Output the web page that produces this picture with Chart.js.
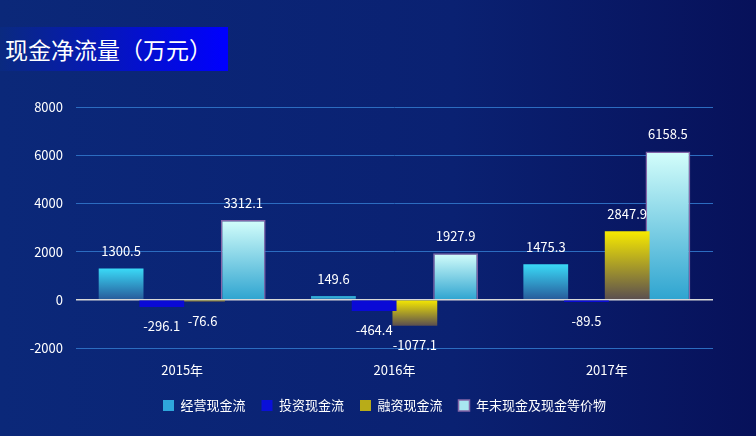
<!DOCTYPE html>
<html>
<head>
<meta charset="utf-8">
<script src="https://cdn.jsdelivr.net/npm/chart.js@4/dist/chart.umd.min.js"></script>
<style>
  html,body{margin:0;padding:0;}
  body{width:756px;height:436px;overflow:hidden;background:linear-gradient(90deg,#0b2879 0%,#0a2172 60%,#07115a 100%);position:relative;
    font-family:"Microsoft YaHei","Noto Sans CJK SC",sans-serif;}
  #title{position:absolute;left:0;top:27px;width:228px;height:44px;line-height:44px;padding-left:5px;box-sizing:border-box;
    color:#fff;font-size:23px;background:linear-gradient(90deg,#0a2a80 0%,#0000ff 100%);white-space:nowrap;}
  #wrap{position:absolute;left:0;top:0;width:756px;height:436px;}
</style>
</head>
<body>
<div id="wrap"><canvas id="c"></canvas></div>
<div id="title">现金净流量（万元）</div>
<script>
const years = ["2015年", "2016年", "2017年"];
const seriesNames = ["经营现金流", "投资现金流", "融资现金流", "年末现金及现金等价物"];
const operating = [1300.5, 149.6, 1475.3];
const investing = [-296.1, -464.4, -89.5];
const financing = [-76.6, -1077.1, 2847.9];
const cashEnd = [3312.1, 1927.9, 6158.5];
const yTicks = [-2000, 0, 2000, 4000, 6000, 8000];

const FONT = '"Microsoft YaHei","Noto Sans CJK SC",sans-serif';

// vertical gradient over each bar's own box, top colour -> bottom colour
function barGrad(top, bottom, fallback){
  return function(ctx){
    const ch = ctx.chart;
    if(!ch.chartArea || ctx.raw == null || !ch.scales.y) return fallback;
    const y = ch.scales.y;
    const a = y.getPixelForValue(ctx.raw), b = y.getPixelForValue(0);
    const y0 = Math.min(a,b), y1 = Math.max(a,b);
    if(y1 - y0 < 1) return fallback;
    const g = ch.ctx.createLinearGradient(0, y0, 0, y1);
    g.addColorStop(0, top);
    g.addColorStop(1, bottom);
    return g;
  };
}

const legendFill = ["#2ea6dc", "#0a10d8", "#b8ac18", "#a8e6f0"];

const valueLabels = {
  id: "valueLabels",
  afterDatasetsDraw(chart){
    const ctx = chart.ctx;
    ctx.save();
    ctx.font = "13px " + FONT;
    ctx.fillStyle = "#ffffff";
    ctx.textAlign = "center";
    ctx.textBaseline = "middle";
    chart.data.datasets.forEach((ds, i) => {
      const meta = chart.getDatasetMeta(i);
      if(meta.hidden) return;
      meta.data.forEach((bar, j) => {
        const v = ds.data[j];
        const yy = v >= 0 ? bar.y - 17 : bar.y + 19;
        ctx.fillText(String(v), bar.x, yy);
      });
    });
    ctx.restore();
  }
};

// nudge the legend to where the original sits
const legendShift = {
  id: "legendShift",
  afterLayout(chart){
    const l = chart.legend;
    if(!l) return;
    l.left += 28; l.right += 28;
    l.top -= 5; l.bottom -= 5;
  }
};

const common = { barPercentage: 1.1, categoryPercentage: 0.767 };

new Chart(document.getElementById("c"), {
  type: "bar",
  data: {
    labels: years,
    datasets: [
      Object.assign({ label: seriesNames[0], data: operating, backgroundColor: barGrad("#3adaf7", "#275a9a", "#2ea6dc") }, common),
      Object.assign({ label: seriesNames[1], data: investing, backgroundColor: "#0a0ad6" }, common),
      Object.assign({ label: seriesNames[2], data: financing, backgroundColor: barGrad("#f7ea00", "#5a4e50", "#b8ac18") }, common),
      Object.assign({ label: seriesNames[3], data: cashEnd, backgroundColor: barGrad("#d4fefb", "#2ea4d0", "#a8e6f0"),
        borderColor: "#8466a8", borderWidth: 1.5 }, common)
    ]
  },
  options: {
    responsive: true,
    maintainAspectRatio: false,
    animation: false,
    layout: { padding: { top: 107, right: 43, left: 0, bottom: 9 } },
    plugins: {
      tooltip: { enabled: false },
      legend: {
        position: "bottom",
        labels: {
          color: "#ffffff",
          font: { size: 13, family: FONT },
          boxWidth: 11,
          boxHeight: 11,
          padding: 16,
          generateLabels(chart){
            return chart.data.datasets.map((ds, i) => ({
              text: ds.label,
              fillStyle: legendFill[i],
              strokeStyle: i === 3 ? "#8466a8" : legendFill[i],
              lineWidth: i === 3 ? 1.5 : 0,
              fontColor: "#ffffff",
              hidden: false,
              datasetIndex: i
            }));
          }
        }
      }
    },
    scales: {
      x: {
        grid: { display: false, drawTicks: false },
        border: { display: false },
        ticks: { color: "#ffffff", font: { size: 13, family: FONT }, padding: 14 },
        afterFit(s){ s.height = 40; }
      },
      y: {
        min: -2000, max: 8000,
        afterBuildTicks(s){ s.ticks = yTicks.map(v => ({ value: v })); },
        grid: {
          color: c => c.tick && c.tick.value === 0 ? "#d8d8d8" : "#2c6cc0",
          lineWidth: c => c.tick && c.tick.value === 0 ? 1.5 : 1,
          drawTicks: false
        },
        border: { display: false },
        ticks: { color: "#ffffff", font: { size: 13, family: FONT }, padding: 13, callback: v => String(v) },
        afterFit(s){ s.width = 76; }
      }
    }
  },
  plugins: [valueLabels, legendShift]
});
</script>
</body>
</html>
